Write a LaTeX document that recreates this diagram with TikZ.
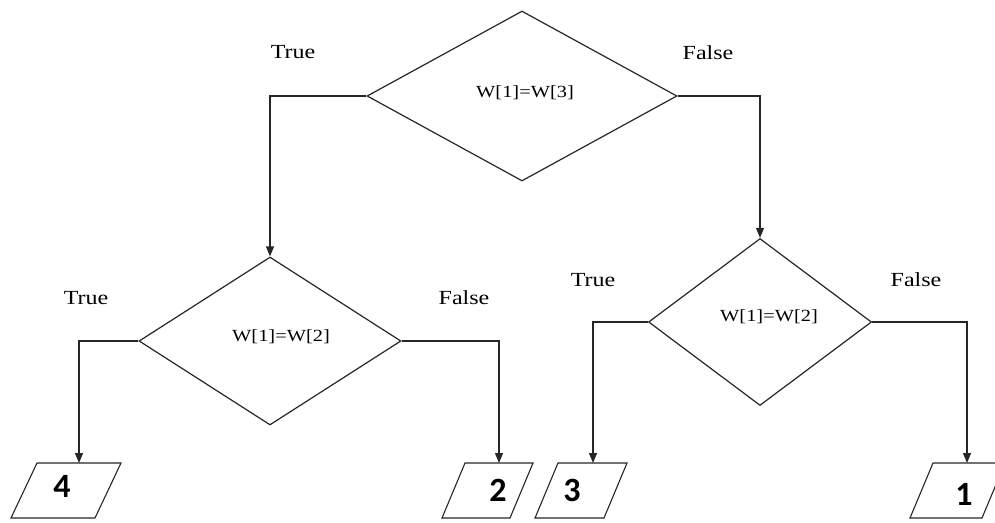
\documentclass[tikz,border=0pt]{standalone}
\usepackage{graphicx}
\usepackage{fontspec}
\setmainfont{Liberation Serif}
\newfontfamily\numfont{Carlito}
\usetikzlibrary{shapes.geometric,arrows.meta}
\newcommand{\widetext}[1]{\scalebox{1.2}[1]{#1}}

\begin{document}
\begin{tikzpicture}[x=1pt,y=-1pt,
  line width=1.2pt,
  decision/.style={diamond, draw=black!85, line width=1.2pt, inner sep=0pt},
  branch/.style={draw=black!85, line width=1.2pt, -{Triangle[length=10pt,width=8pt]}},
  outbox/.style={draw=black!85, line width=1.1pt},
  lbl/.style={font=\fontsize{20}{24}\selectfont, inner sep=0pt},
  cond/.style={font=\fontsize{17}{20}\selectfont, inner sep=0pt},
  num/.style={font=\numfont\bfseries\fontsize{34}{40}\selectfont, inner sep=0pt}]

  \useasboundingbox (0,0) rectangle (995,522);
  \clip (0,0) rectangle (995,522);

  % decision diamonds
  \node[decision, minimum width=310pt, minimum height=170pt] (top) at (522,96) {};
  \node[decision, minimum width=262pt, minimum height=168pt] (left) at (270,341) {};
  \node[decision, minimum width=223pt, minimum height=167pt] (right) at (760,322) {};

  \node[cond] (ctop) at (525,93) {\widetext{W[1]=W[3]}};
  \node[cond] (cleft) at (281,337) {\widetext{W[1]=W[2]}};
  \node[cond] (cright) at (769,317) {\widetext{W[1]=W[2]}};

  % output boxes (top mid points)
  \coordinate (p4) at (79,463);
  \coordinate (p2) at (499,463);
  \coordinate (p3) at (593,463);
  \coordinate (p1) at (967,463);

  \draw[outbox] (p4) ++(-42,0) -- ++(84,0) -- ++(-26,55) -- ++(-84,0) -- cycle;
  \draw[outbox] (p2) ++(-34,0) -- ++(68,0) -- ++(-23,55) -- ++(-68,0) -- cycle;
  \draw[outbox] (p3) ++(-35,0) -- ++(69,0) -- ++(-23,55) -- ++(-69,0) -- cycle;
  \draw[outbox] (p1) ++(-34,0) -- ++(72,0) -- ++(-23,55) -- ++(-72,0) -- cycle;

  \node[num] (n4) at (62,486) {4};
  \node[num] (n2) at (498,490) {2};
  \node[num] (n3) at (572,490) {3};
  \node[num] (n1) at (964,494) {1};

  % branches
  \draw[branch] (top.west) -| (left.north);
  \draw[branch] (top.east) -| (right.north);
  \draw[branch] (left.west) -| (p4);
  \draw[branch] (left.east) -| (p2);
  \draw[branch] (right.west) -| (p3);
  \draw[branch] (right.east) -| (p1);

  % branch labels
  \node[lbl] (t1) at (293,52) {\widetext{True}};
  \node[lbl] (f1) at (708,53) {\widetext{False}};
  \node[lbl] (t2) at (86,298) {\widetext{True}};
  \node[lbl] (f2) at (464,298) {\widetext{False}};
  \node[lbl] (t3) at (593,280) {\widetext{True}};
  \node[lbl] (f3) at (916,280) {\widetext{False}};
\end{tikzpicture}
\end{document}
